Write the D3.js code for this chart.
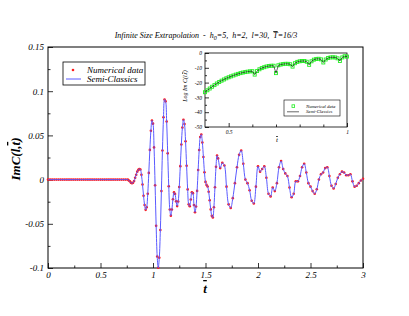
<!DOCTYPE html>
<html>
<head>
<meta charset="utf-8">
<script src="https://cdnjs.cloudflare.com/ajax/libs/d3/7.8.5/d3.min.js"></script>
<style>
  body { margin: 0; background: #fff; }
  svg text { font-family: "Liberation Serif", "Times New Roman", serif; font-style: italic; }
</style>
</head>
<body>
<div id="chart"></div>
<script>
// ---- main plot data (t bar, Im C) ----
var tMain = [
  0, 0.02, 0.04, 0.06, 0.08, 0.1, 0.12, 0.14, 0.16, 0.18, 0.2, 0.22, 0.24, 0.26, 0.28, 0.3, 0.32, 0.34, 0.36,
  0.38, 0.4, 0.42, 0.44, 0.46, 0.48, 0.5, 0.52, 0.54, 0.56, 0.58, 0.6, 0.62, 0.64, 0.66, 0.68, 0.7, 0.72, 0.74,
  0.76, 0.77, 0.78, 0.79, 0.8, 0.81, 0.82, 0.83, 0.84, 0.85, 0.86, 0.87, 0.88, 0.89, 0.9, 0.91, 0.92, 0.93,
  0.94, 0.95, 0.96, 0.97, 0.98, 0.99, 1, 1.01, 1.02, 1.03, 1.04, 1.05, 1.06, 1.07, 1.08, 1.09, 1.1, 1.11,
  1.12, 1.13, 1.14, 1.15, 1.16, 1.17, 1.18, 1.19, 1.2, 1.21, 1.22, 1.23, 1.24, 1.25, 1.26, 1.27, 1.28, 1.29,
  1.3, 1.31, 1.32, 1.33, 1.34, 1.35, 1.36, 1.37, 1.38, 1.39, 1.4, 1.41, 1.42, 1.43, 1.44, 1.45, 1.46, 1.47,
  1.48, 1.49, 1.5, 1.51, 1.52, 1.53, 1.54, 1.55, 1.56, 1.57, 1.58, 1.59, 1.6, 1.61,
  1.62, 1.64, 1.66, 1.68, 1.7, 1.72, 1.74, 1.76, 1.78, 1.8, 1.82, 1.84, 1.86, 1.88, 1.9, 1.92, 1.94, 1.96,
  1.98, 2, 2.02, 2.04, 2.06, 2.08, 2.1, 2.12, 2.14, 2.16, 2.18, 2.2, 2.22, 2.24, 2.26, 2.28, 2.3, 2.32, 2.34,
  2.36, 2.38, 2.4, 2.42, 2.44, 2.46, 2.48, 2.5, 2.52, 2.54, 2.56, 2.58, 2.6, 2.62, 2.64, 2.66, 2.68, 2.7,
  2.72, 2.74, 2.76, 2.78, 2.8, 2.82, 2.84, 2.86, 2.88, 2.9, 2.92, 2.94, 2.96, 2.98, 3
];

var numerical = [
  0, 0, 0, 0, 0, 0, 0, 0, 0, 0, 0, 0, 0, 0, 0, 0, 0, 0, 0,
  0, 0, 0, 0, 0, 0, 0, 0, 0, 0, 0, 0, 0, 0, 0, 0, 0, 0, 0,
  0, -0.001, -0.002, -0.0035, -0.004, -0.0035, -0.0015, 0.002, 0.0055, 0.009, 0.011, 0.012, 0.0114, 0.0054, -0.0055, -0.0182, -0.0288, -0.0342,
  -0.0312, -0.016, 0.0076, 0.0336, 0.0552, 0.0669, 0.0633, 0.0364, -0.0065, -0.0523, -0.087, -0.0998, -0.0884, -0.057, -0.013, 0.033, 0.0706, 0.0906,
  0.0885, 0.0657, 0.0297, -0.0076, -0.0338, -0.0408, -0.0339, -0.0222, -0.0145, -0.0163, -0.0246, -0.030, -0.0248, -0.0084, 0.0152, 0.0397, 0.0588, 0.0677,
  0.0628, 0.0433, 0.0156, -0.0111, -0.028, -0.0302, -0.0225, -0.0143, -0.0153, -0.0287, -0.037, -0.0304, -0.0128, 0.0109, 0.0334, 0.0482, 0.051, 0.042,
  0.0256, 0.0083, -0.0026, -0.006, -0.0078, -0.0137, -0.0234, -0.0337, -0.041, -0.0429, -0.0312, -0.0087, 0.0144, 0.0272,
  0.024, 0.013, 0.019, 0.016, -0.008, -0.028, -0.032, -0.021, -0.004, 0.014, 0.028, 0.033, 0.018, 0.000, -0.004, -0.012, -0.024, -0.027,
  -0.008, 0.015, 0.009, 0.012, 0.015, 0.002, -0.016, -0.019, -0.009, -0.013, -0.004, 0.014, 0.021, 0.012, 0.007, 0.004, -0.009, -0.020, -0.016,
  -0.002, -0.002, 0.004, 0.014, 0.018, 0.008, -0.004, -0.008, -0.013, -0.016, -0.011, 0.000, 0.006, 0.008, 0.013, 0.014, 0.004, -0.007,
  -0.010, -0.005, 0.002, 0.006, 0.009, 0.008, 0.005, 0.005, 0.006, -0.002, -0.008, -0.007, -0.004, -0.001, 0.001
];

var semiClassics = [
  0, 0, 0, 0, 0, 0, 0, 0, 0, 0, 0, 0, 0, 0, 0, 0, 0, 0, 0,
  0, 0, 0, 0, 0, 0, 0, 0, 0, 0, 0, 0, 0, 0, 0, 0, 0, 0, 0,
  0, -0.001, -0.002, -0.0035, -0.004, -0.0035, -0.0015, 0.002, 0.0055, 0.009, 0.011, 0.012, 0.0114, 0.0054, -0.0055, -0.0182, -0.0288, -0.0342,
  -0.0312, -0.016, 0.0076, 0.0336, 0.0552, 0.0669, 0.0633, 0.0364, -0.0065, -0.0523, -0.087, -0.0998, -0.0884, -0.057, -0.013, 0.033, 0.0706, 0.0906,
  0.0885, 0.0657, 0.0297, -0.0076, -0.0338, -0.0408, -0.0339, -0.0222, -0.0145, -0.0163, -0.0246, -0.030, -0.0248, -0.0084, 0.0152, 0.0397, 0.0588, 0.0677,
  0.0628, 0.0433, 0.0156, -0.0111, -0.028, -0.0302, -0.0225, -0.0143, -0.0153, -0.0287, -0.037, -0.0304, -0.0128, 0.0109, 0.0334, 0.0482, 0.051, 0.042,
  0.0256, 0.0083, -0.0026, -0.006, -0.0078, -0.0137, -0.0234, -0.0337, -0.041, -0.0429, -0.0312, -0.0087, 0.0144, 0.0272,
  0.024, 0.013, 0.019, 0.016, -0.008, -0.028, -0.032, -0.021, -0.004, 0.014, 0.028, 0.033, 0.018, 0.000, -0.004, -0.012, -0.024, -0.027,
  -0.008, 0.015, 0.009, 0.012, 0.015, 0.002, -0.016, -0.019, -0.009, -0.013, -0.004, 0.014, 0.021, 0.012, 0.007, 0.004, -0.009, -0.020, -0.016,
  -0.002, -0.002, 0.004, 0.014, 0.018, 0.008, -0.004, -0.008, -0.013, -0.016, -0.011, 0.000, 0.006, 0.008, 0.013, 0.014, 0.004, -0.007,
  -0.010, -0.005, 0.002, 0.006, 0.009, 0.008, 0.005, 0.005, 0.006, -0.002, -0.008, -0.007, -0.004, -0.001, 0.001
];

// ---- inset data (log Im C) ----
var tInset = [
  0.4, 0.41, 0.42, 0.43, 0.44, 0.45, 0.46, 0.47, 0.48, 0.49, 0.5, 0.51, 0.52, 0.53, 0.54, 0.55, 0.56, 0.57, 0.58, 0.59,
  0.6, 0.61, 0.62, 0.63, 0.64, 0.65, 0.66, 0.67, 0.68, 0.69, 0.7, 0.71, 0.72, 0.73, 0.74, 0.75, 0.76, 0.77, 0.78, 0.79,
  0.8, 0.81, 0.82, 0.83, 0.84, 0.85, 0.86, 0.87, 0.88, 0.89, 0.9, 0.91, 0.92, 0.93, 0.94, 0.95, 0.96, 0.97, 0.98, 0.99, 1
];
var logNumerical = [
  -26.5, -25.2, -24.0, -22.8, -21.7, -20.6, -19.6, -18.7, -17.9, -17.1, -16.4, -15.8, -15.2, -14.6, -14.1, -13.6, -13.2, -12.9, -12.6, -12.4,
  -12.3, -14.6, -12.2, -11.0, -10.2, -9.6, -9.1, -8.8, -8.6, -8.6, -13.6, -8.3, -7.8, -7.5, -7.3, -7.3, -7.6, -9.2, -6.9, -6.0,
  -5.6, -5.4, -5.4, -5.9, -8.0, -5.6, -4.5, -4.0, -3.9, -4.3, -6.4, -4.4, -3.4, -3.0, -2.9, -3.0, -3.6, -5.4, -3.0, -2.2, -2.4
];
var logSemi = [
  -26.5, -25.2, -24.0, -22.8, -21.7, -20.6, -19.6, -18.7, -17.9, -17.1, -16.4, -15.8, -15.2, -14.6, -14.1, -13.6, -13.2, -12.9, -12.6, -12.4,
  -12.3, -14.6, -12.2, -11.0, -10.2, -9.6, -9.1, -8.8, -8.6, -8.6, -13.6, -8.3, -7.8, -7.5, -7.3, -7.3, -7.6, -9.2, -6.9, -6.0,
  -5.6, -5.4, -5.4, -5.9, -8.0, -5.6, -4.5, -4.0, -3.9, -4.3, -6.4, -4.4, -3.4, -3.0, -2.9, -3.0, -3.6, -5.4, -3.0, -2.2, -2.4
];

// ---- ticks ----
var xTicks = [0, 0.5, 1, 1.5, 2, 2.5, 3];
var xMinor = [0.25, 0.75, 1.25, 1.75, 2.25, 2.75];
var yTicks = [-0.1, -0.05, 0, 0.05, 0.1, 0.15];
var yMinor = [-0.075, -0.025, 0.025, 0.075, 0.125];
var xInsetTicks = [0.5, 1];
var xInsetMinor = [0.6, 0.7, 0.8, 0.9];
var yInsetTicks = [-50, -40, -30, -20, -10, 0];
var yInsetMinor = [-45, -35, -25, -15, -5];

var legendNames = ["Numerical data", "Semi-Classics"];

var width = 409, height = 316;

var svg = d3.select("#chart")
  .append("svg")
  .attr("width", width)
  .attr("height", height);

// plot box of the main chart
var box = { left: 48, right: 363, top: 47, bottom: 268 };

var xScale = d3.scaleLinear().domain([0, 3]).range([box.left, box.right]);
var yScale = d3.scaleLinear().domain([-0.1, 0.15]).range([box.bottom, box.top]);

function fmt(d) {
  return String(+d.toFixed(3));
}

// style an axis group: serif italic labels, no domain line
function styleAxis(g, size) {
  g.attr("font-family", null).attr("font-size", null);
  g.select(".domain").remove();
  g.selectAll("line").attr("stroke", "#000").attr("stroke-width", 0.8);
  g.selectAll("text")
    .attr("fill", "#000")
    .style("font-size", size + "px");
}

// x axis, major + minor, ticks pointing inward
svg.append("g")
  .attr("transform", "translate(0," + box.bottom + ")")
  .call(d3.axisBottom(xScale).tickValues(xTicks).tickSizeInner(-5).tickSizeOuter(0).tickPadding(4).tickFormat(fmt))
  .call(styleAxis, 9);
svg.append("g")
  .attr("transform", "translate(0," + box.bottom + ")")
  .call(d3.axisBottom(xScale).tickValues(xMinor).tickSizeInner(-2.5).tickSizeOuter(0).tickFormat(""))
  .call(styleAxis, 9);

// y axis
svg.append("g")
  .attr("transform", "translate(" + box.left + ",0)")
  .call(d3.axisLeft(yScale).tickValues(yTicks).tickSizeInner(-5).tickSizeOuter(0).tickPadding(4).tickFormat(fmt))
  .call(styleAxis, 9);
svg.append("g")
  .attr("transform", "translate(" + box.left + ",0)")
  .call(d3.axisLeft(yScale).tickValues(yMinor).tickSizeInner(-2.5).tickSizeOuter(0).tickFormat(""))
  .call(styleAxis, 9);

// frame
svg.append("rect")
  .attr("x", box.left)
  .attr("y", box.top)
  .attr("width", box.right - box.left)
  .attr("height", box.bottom - box.top)
  .attr("fill", "none")
  .attr("stroke", "#000")
  .attr("stroke-width", 1);

// numerical data dots
svg.append("g")
  .selectAll("circle")
  .data(numerical)
  .enter()
  .append("circle")
  .attr("cx", function(d, i) { return xScale(tMain[i]); })
  .attr("cy", function(d) { return yScale(d); })
  .attr("r", 1.3)
  .attr("fill", "#ff1a1a");

// semi-classics line
var line = d3.line()
  .x(function(d, i) { return xScale(tMain[i]); })
  .y(function(d) { return yScale(d); })
  .curve(d3.curveCatmullRom.alpha(0.5));

svg.append("path")
  .datum(semiClassics)
  .attr("d", line)
  .attr("fill", "none")
  .attr("stroke", "#5a5aff")
  .attr("stroke-width", 1);

// main legend
svg.append("rect")
  .attr("x", 63).attr("y", 62).attr("width", 82).attr("height", 23)
  .attr("fill", "#fff").attr("stroke", "#000").attr("stroke-width", 0.8);
svg.append("circle").attr("cx", 73).attr("cy", 70).attr("r", 1.3).attr("fill", "#ff1a1a");
svg.append("line")
  .attr("x1", 66).attr("x2", 81).attr("y1", 79).attr("y2", 79)
  .attr("stroke", "#5a5aff").attr("stroke-width", 1);
svg.selectAll("mainlegend")
  .data(legendNames)
  .enter()
  .append("text")
  .attr("x", 87)
  .attr("y", function(d, i) { return 73 + i * 9; })
  .style("font-size", "9px")
  .text(function(d) { return d; });

// axis titles
var xTitle = svg.append("text")
  .attr("x", 205).attr("y", 293)
  .attr("text-anchor", "middle")
  .style("font-size", "13px").style("font-weight", "bold");
xTitle.append("tspan").style("text-decoration", "overline").text("t");

var yTitle = svg.append("text")
  .attr("transform", "translate(20,159) rotate(-90)")
  .attr("text-anchor", "middle")
  .style("font-size", "13px").style("font-weight", "bold");
yTitle.append("tspan").text("ImC(l,");
yTitle.append("tspan").style("text-decoration", "overline").text("t");
yTitle.append("tspan").text(")");

// chart title
var title = svg.append("text")
  .attr("x", 206).attr("y", 38)
  .attr("text-anchor", "middle")
  .style("font-size", "8px")
  .style("white-space", "pre");
title.append("tspan").text("Infinite Size Extrapolation  -  h");
title.append("tspan").attr("dy", 2).style("font-size", "6px").text("0");
title.append("tspan").attr("dy", -2).text("=5,  h=2,  l=30,  ");
title.append("tspan").style("text-decoration", "overline").text("T");
title.append("tspan").text("=16/3");

// ---- inset ----
var ibox = { left: 205, right: 347, top: 53, bottom: 127 };
var xInset = d3.scaleLinear().domain([0.4, 1]).range([ibox.left, ibox.right]);
var yInset = d3.scaleLinear().domain([-50, 0]).range([ibox.bottom, ibox.top]);

svg.append("g")
  .attr("transform", "translate(0," + ibox.bottom + ")")
  .call(d3.axisBottom(xInset).tickValues(xInsetTicks).tickSizeInner(-4).tickSizeOuter(0).tickPadding(3).tickFormat(fmt))
  .call(styleAxis, 5.5);
svg.append("g")
  .attr("transform", "translate(0," + ibox.bottom + ")")
  .call(d3.axisBottom(xInset).tickValues(xInsetMinor).tickSizeInner(-2.5).tickSizeOuter(0).tickFormat(""))
  .call(styleAxis, 5.5);
svg.append("g")
  .attr("transform", "translate(" + ibox.left + ",0)")
  .call(d3.axisLeft(yInset).tickValues(yInsetTicks).tickSizeInner(-4).tickSizeOuter(0).tickPadding(3).tickFormat(fmt))
  .call(styleAxis, 5.5);
svg.append("g")
  .attr("transform", "translate(" + ibox.left + ",0)")
  .call(d3.axisLeft(yInset).tickValues(yInsetMinor).tickSizeInner(-2).tickSizeOuter(0).tickFormat(""))
  .call(styleAxis, 5.5);

svg.append("rect")
  .attr("x", ibox.left)
  .attr("y", ibox.top)
  .attr("width", ibox.right - ibox.left)
  .attr("height", ibox.bottom - ibox.top)
  .attr("fill", "none")
  .attr("stroke", "#000")
  .attr("stroke-width", 0.8);

// green squares
svg.append("g")
  .selectAll("rect")
  .data(logNumerical)
  .enter()
  .append("rect")
  .attr("x", function(d, i) { return xInset(tInset[i]) - 1.5; })
  .attr("y", function(d) { return yInset(d) - 1.5; })
  .attr("width", 3)
  .attr("height", 3)
  .attr("fill", "none")
  .attr("stroke", "#22ee22")
  .attr("stroke-width", 0.9);

var insetLine = d3.line()
  .x(function(d, i) { return xInset(tInset[i]); })
  .y(function(d) { return yInset(d); });

svg.append("path")
  .datum(logSemi)
  .attr("d", insetLine)
  .attr("fill", "none")
  .attr("stroke", "#000")
  .attr("stroke-width", 0.6);

// inset legend
svg.append("rect")
  .attr("x", 284).attr("y", 100).attr("width", 56).attr("height", 16)
  .attr("fill", "#fff").attr("stroke", "#000").attr("stroke-width", 0.6);
svg.append("rect")
  .attr("x", 292).attr("y", 104.8).attr("width", 2.6).attr("height", 2.6)
  .attr("fill", "none").attr("stroke", "#22ee22").attr("stroke-width", 0.8);
svg.append("line")
  .attr("x1", 287).attr("x2", 299).attr("y1", 111.8).attr("y2", 111.8)
  .attr("stroke", "#000").attr("stroke-width", 0.6);
svg.selectAll("insetlegend")
  .data(legendNames)
  .enter()
  .append("text")
  .attr("x", 306)
  .attr("y", function(d, i) { return 107.8 + i * 5.6; })
  .style("font-size", "4.7px")
  .text(function(d) { return d; });

// inset axis titles
var ixTitle = svg.append("text")
  .attr("x", 277).attr("y", 142)
  .attr("text-anchor", "middle")
  .style("font-size", "7px");
ixTitle.append("tspan").style("text-decoration", "overline").text("t");

var iyTitle = svg.append("text")
  .attr("transform", "translate(187,86) rotate(-90)")
  .attr("text-anchor", "middle")
  .style("font-size", "6px");
iyTitle.append("tspan").text("Log Im C(l,");
iyTitle.append("tspan").style("text-decoration", "overline").text("t");
iyTitle.append("tspan").text(")");
</script>
</body>
</html>
